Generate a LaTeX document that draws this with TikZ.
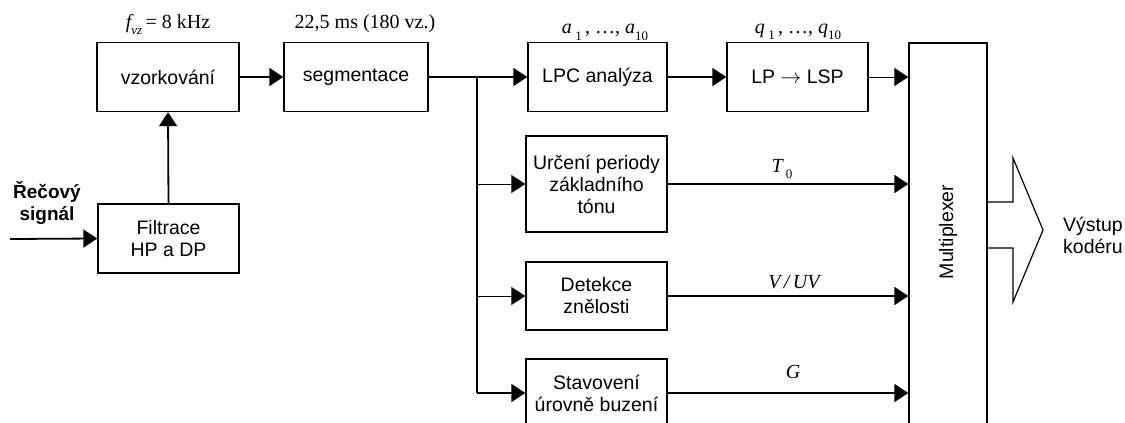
\documentclass[tikz,border=0pt]{standalone}
\usepackage{fontspec}
\setmainfont{Liberation Sans}
\newfontfamily\serifff{Liberation Serif}
\usetikzlibrary{arrows.meta}
\newcommand{\lsub}[1]{\raisebox{-0.3em}{\fontsize{13}{13}\selectfont #1}}
\begin{document}
\begin{tikzpicture}[x=1pt,y=-1pt,
  blk/.style={draw, line width=1.4pt, minimum width=141pt, minimum height=69pt, align=center, inner sep=2pt, font=\fontsize{19.5}{22}\selectfont},
  arr/.style={line width=1.8pt, -{Triangle[length=14pt,width=18pt]}},
  tarr/.style={line width=1pt, -{Triangle[length=14pt,width=18pt]}},
  trunk/.style={line width=1.8pt},
  lab/.style={font=\serifff\fontsize{20}{24}\selectfont, inner sep=0pt, anchor=base},
  txt/.style={font=\fontsize{19.5}{22}\selectfont, align=center, inner sep=0pt}]
\useasboundingbox (0,0) rectangle (1125,423);
\clip (0,0) rectangle (1125,423);
% blocks
\node[blk, minimum width=142pt] (vz) at (168,77) {vzorkování};
\node[blk, minimum width=144pt] (seg) at (356,77) {segmentace};
\node[blk, minimum width=139pt] (lpc) at (597.5,77) {LPC analýza};
\node[blk] (lsp) at (797.5,77) {LP $\rightarrow$ LSP};
\node[blk] (filt) at (168.5,238.5) {Filtrace\\HP a DP};
\node[blk, minimum height=96pt] (per) at (596.5,184) {Určení periody\\základního\\tónu};
\node[blk, minimum height=68pt] (det) at (596.5,296) {Detekce\\znělosti};
\node[blk, minimum height=68pt] (sta) at (596.5,393) {Stavovení\\úrovně buzení};
\node[draw, line width=1.4pt, minimum width=78pt, minimum height=420pt] (mux) at (948,253) {};
\node[txt, rotate=90] (muxt) at (948,232) {Multiplexer};
% labels
\node[txt, font=\bfseries\fontsize{19}{22}\selectfont] (sig) at (47,203) {Řečový\\signál};
\node[txt] (out) at (1093,235) {Výstup\\kodéru};
\node[lab] (fvz) at (168,28) {{\itshape f}\lsub{\itshape vz}\,= 8 kHz};
\node[lab] (seglab) at (365,28) {22,5 ms (180 vz.)};
\node[lab] (alab) at (605,34) {{\itshape a}\,\lsub{1}\,, \ldots, {\itshape a}\lsub{10}};
\node[lab] (qlab) at (798,33) {{\itshape q}\,\lsub{1}\,, \ldots, {\itshape q}\lsub{10}};
\node[lab] (tlab) at (782,172) {{\itshape T}\,\lsub{0}};
\node[lab] (vlab) at (794,288) {{\itshape V\,/\,UV}};
\node[lab] (glab) at (793,378) {{\itshape G}};
% connectors
\coordinate (in) at (10,239);
\draw[arr] (in) -- (filt.west);
\draw[arr] (filt.north) -- (vz.south);
\draw[arr] (vz.east) -- (seg.west);
\draw[arr] (seg.east) -- (lpc.west);
\draw[arr] (lpc.east) -- (lsp.west);
\draw[tarr] (lsp.east) -- (lsp.east -| mux.west);
\coordinate (br) at (477,77);
\draw[trunk] (br) -- (br |- sta.west);
\draw[tarr] (br |- per.west) -- (per.west);
\draw[tarr] (br |- det.west) -- (det.west);
\draw[arr] (br |- sta.west) -- (sta.west);
\draw[arr] (per.east) -- (per.east -| mux.west);
\draw[arr] (det.east) -- (det.east -| mux.west);
\draw[arr] (sta.east) -- (sta.east -| mux.west);
% output arrow
\draw[line width=1.2pt] (mux.east |- 0,202) -- (1013,202) -- (1013,158) -- (1043,230) -- (1013,302) -- (1013,248) -- (mux.east |- 0,248);
\end{tikzpicture}
\end{document}
